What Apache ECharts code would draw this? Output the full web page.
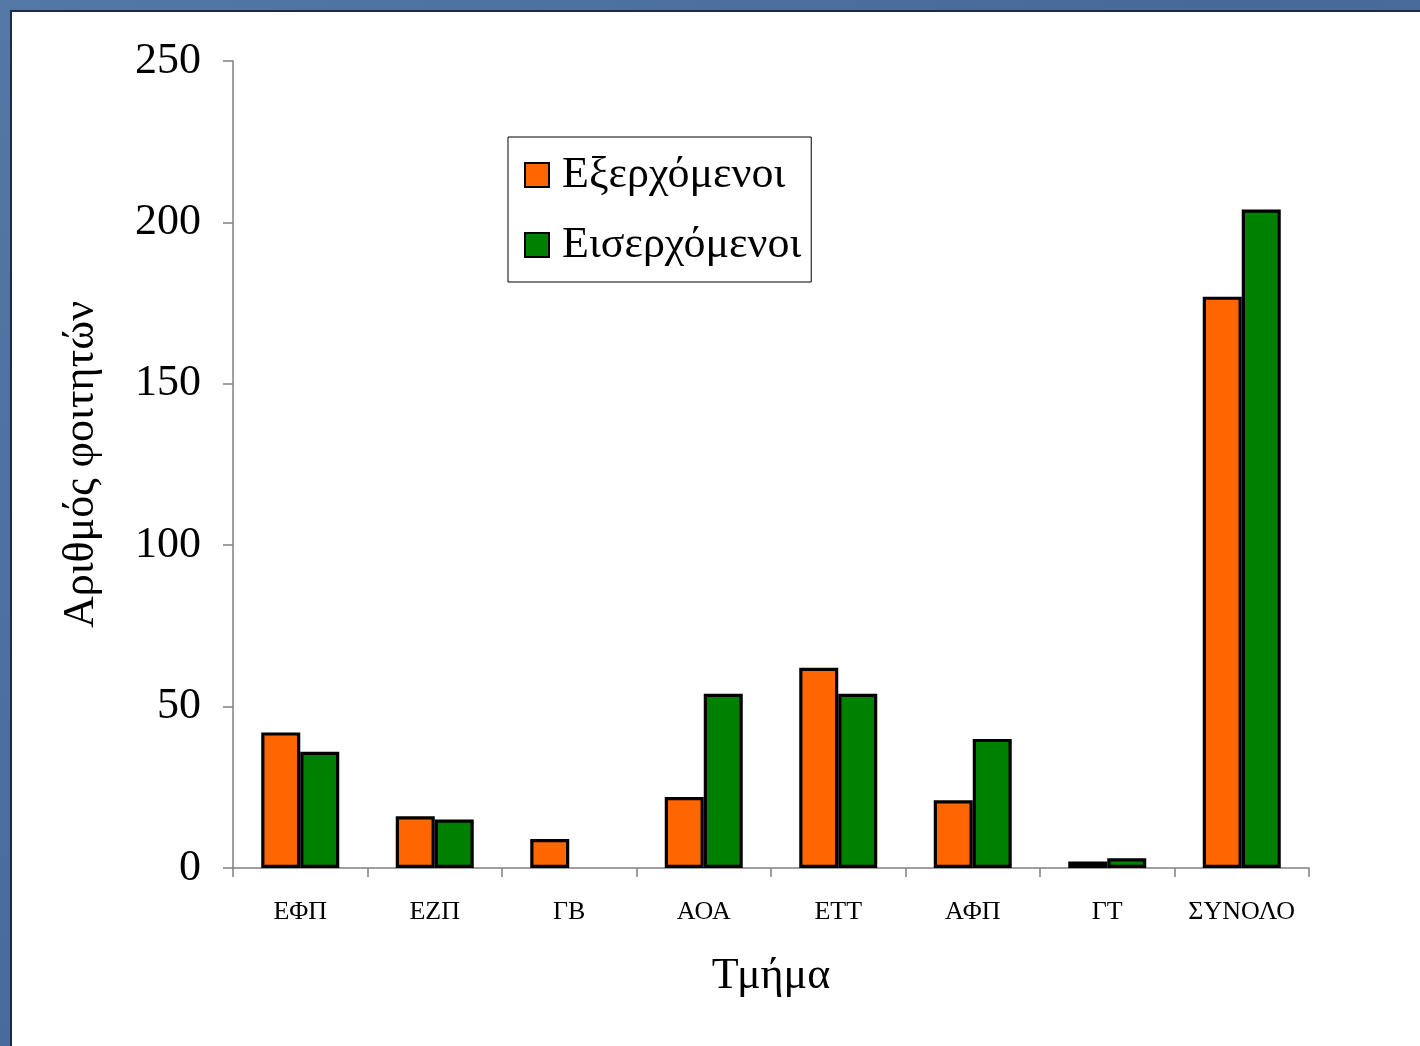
<!DOCTYPE html>
<html>
<head>
<meta charset="utf-8">
<script src="https://cdn.jsdelivr.net/npm/echarts@6/dist/echarts.min.js"></script>
<style>
  html, body { margin: 0; padding: 0; width: 1420px; height: 1046px; overflow: hidden;
    background: linear-gradient(135deg, #5378a6 0%, #46699a 50%, #5075a3 100%); }
  #panel { position: absolute; left: 10px; top: 10px; width: 1420px; height: 1046px;
    background: #ffffff; border-left: 2px solid #1f2a3a; border-top: 2px solid #1f2a3a; }
  #chart { position: absolute; left: 0; top: 0; width: 1420px; height: 1046px; }
</style>
</head>
<body>
<div id="panel"></div>
<div id="chart"></div>
<script>
const categories = ['ΕΦΠ', 'ΕΖΠ', 'ΓΒ', 'ΑΟΑ', 'ΕΤΤ', 'ΑΦΠ', 'ΓΤ', 'ΣΥΝΟΛΟ'];
const outgoing = [42, 16, 9, 22, 62, 21, 2, 177];
const incoming = [36, 15, 0, 54, 54, 40, 3, 204];
const seriesNames = ['Εξερχόμενοι', 'Εισερχόμενοι'];
const yTicks = { min: 0, max: 250, interval: 50 };

const serif = '"Liberation Serif", "DejaVu Serif", serif';
const toItems = arr => arr.map(v => ({ value: v, itemStyle: { borderWidth: v === 0 ? 0 : 3.2 } }));

const chart = echarts.init(document.getElementById('chart'), null, { renderer: 'canvas' });
chart.setOption({
  backgroundColor: 'transparent',
  animation: false,
  grid: { left: 233, top: 61, width: 1076, height: 807, containLabel: false },
  legend: {
    left: 508, top: 137,
    orient: 'vertical',
    backgroundColor: '#ffffff',
    borderColor: '#000000', borderWidth: 1,
    padding: [16, 10, 15, 16],
    itemWidth: 24, itemHeight: 24,
    itemGap: 26,
    textStyle: { fontFamily: serif, fontSize: 44, color: '#000', lineHeight: 44, padding: [0, 0, 0, 8] },
    data: seriesNames.map(n => ({ name: n, icon: 'rect' }))
  },
  xAxis: {
    type: 'category',
    data: categories,
    name: 'Τμήμα',
    nameLocation: 'middle',
    nameGap: 86,
    nameTextStyle: { fontFamily: serif, fontSize: 44, color: '#000' },
    axisLine: { lineStyle: { color: '#808080', width: 1.5 } },
    axisTick: { show: true, interval: 0, length: 9, lineStyle: { color: '#808080', width: 1.5 } },
    axisLabel: { interval: 0, fontFamily: serif, fontSize: 26, color: '#000', margin: 31 }
  },
  yAxis: {
    type: 'value',
    min: yTicks.min, max: yTicks.max, interval: yTicks.interval,
    name: 'Αριθμός φοιτητών',
    nameLocation: 'middle',
    nameGap: 130,
    nameRotate: 90,
    nameTextStyle: { fontFamily: serif, fontSize: 44, color: '#000' },
    axisLine: { show: true, lineStyle: { color: '#808080', width: 1.5 } },
    axisTick: { show: true, length: 10, lineStyle: { color: '#808080', width: 1.5 } },
    splitLine: { show: false },
    axisLabel: { fontFamily: serif, fontSize: 44, color: '#000', margin: 32 }
  },
  series: [
    {
      name: seriesNames[0], type: 'bar', data: toItems(outgoing),
      barWidth: 39, barGap: '0%',
      itemStyle: { color: '#ff6600', borderColor: '#000000', borderWidth: 3.2 }
    },
    {
      name: seriesNames[1], type: 'bar', data: toItems(incoming),
      barWidth: 39, barGap: '0%',
      itemStyle: { color: '#008000', borderColor: '#000000', borderWidth: 3.2 }
    }
  ]
});
</script>
</body>
</html>
